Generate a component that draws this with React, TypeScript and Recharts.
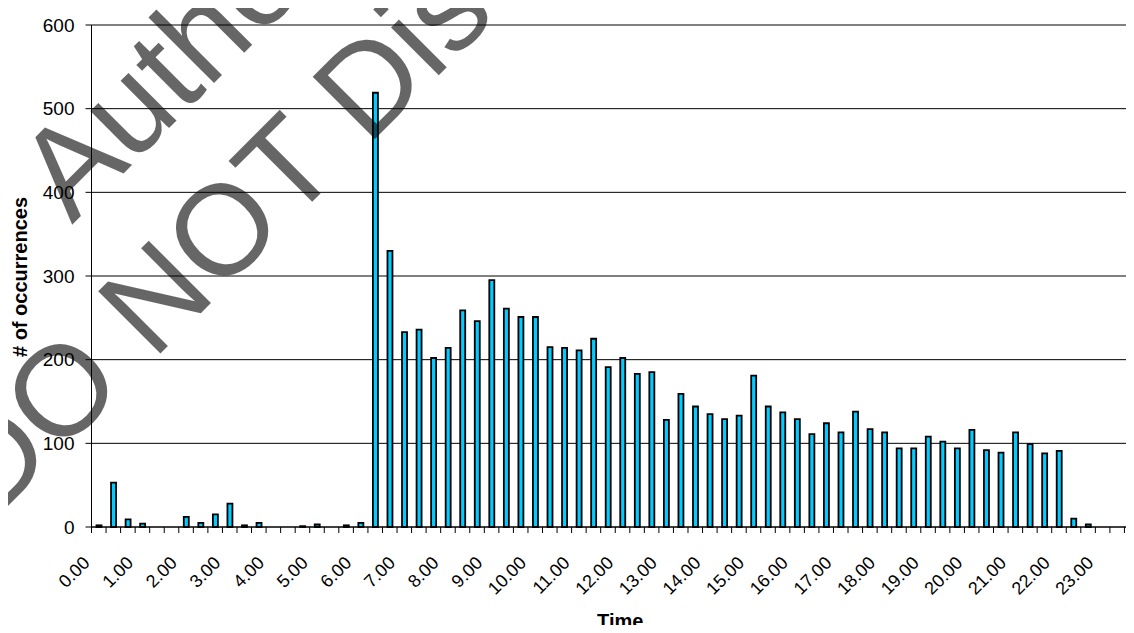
import React from 'react'
import { BarChart, Bar, XAxis, YAxis, CartesianGrid, Label, ReferenceLine } from 'recharts'

// 20-minute slots over the day, one label per hour
const hourLabels = [
  '0.00', '1.00', '2.00', '3.00', '4.00', '5.00', '6.00', '7.00', '8.00', '9.00', '10.00', '11.00',
  '12.00', '13.00', '14.00', '15.00', '16.00', '17.00', '18.00', '19.00', '20.00', '21.00', '22.00', '23.00',
]
const minuteSteps = ['00', '20', '40']

const occurrences = [
  2, 53, 9, 4, 0, 0, 12, 5, 15, 28, 2, 5,
  0, 0, 1, 3, 0, 2, 5, 519, 330, 233, 236, 202,
  214, 259, 246, 295, 261, 251, 251, 215, 214, 211, 225, 191,
  202, 183, 185, 128, 159, 144, 135, 129, 133, 181, 144, 137,
  129, 111, 124, 113, 138, 117, 113, 94, 94, 108, 102, 94,
  116, 92, 89, 113, 99, 88, 91, 10, 3, 0, 0, 2,
]

const yTicks = [0, 100, 200, 300, 400, 500, 600]

const slots = hourLabels.flatMap((h) => minuteSteps.map((m) => h.replace('.00', '.' + m)))
const rows = slots.map((slot, i) => ({ slot, count: occurrences[i] }))

const FONT = '"Liberation Sans", Arial, sans-serif'
const CHART_W = 1145
const CHART_H = 633
const MARGIN = { top: 25, right: 6, bottom: 0, left: 0 }
const Y_AXIS_W = 91.5
const PLOT_W = CHART_W - Y_AXIS_W - MARGIN.left - MARGIN.right
const BAND = PLOT_W / slots.length

function SlotTick(props: any) {
  const { x, y, index, payload } = props
  const half = payload?.offset ?? BAND / 2
  const value: string = payload?.value ?? ''
  const showLabel = value.endsWith('.00')
  const lx = x - 8
  const ly = y + 37
  return (
    <g>
      <line x1={x - half} x2={x - half} y1={y} y2={y + 6} stroke="#000" />
      {index === slots.length - 1 && <line x1={x + half} x2={x + half} y1={y} y2={y + 6} stroke="#000" />}
      {showLabel && (
        <text x={lx} y={ly} transform={`rotate(-45 ${lx} ${ly})`} textAnchor="end" fontSize={18} fontFamily={FONT} fill="#000">
          {value}
        </text>
      )}
    </g>
  )
}

export default function App() {
  return (
    <div style={{ margin: -8, width: 1134, height: 633, overflow: 'hidden', position: 'relative', background: '#fff' }}>
      <BarChart width={CHART_W} height={CHART_H} data={rows} margin={MARGIN}>
        <CartesianGrid vertical={false} stroke="#000" />
        {/* plot area frame on top */}
        <ReferenceLine y={600} stroke="#808080" strokeWidth={1.5} />
        <XAxis
          dataKey="slot"
          interval={0}
          tickLine={false}
          tickSize={0}
          tickMargin={0}
          height={106}
          axisLine={{ stroke: '#000' }}
          tick={<SlotTick />}
        >
          <Label
            content={() => (
              <text
                x={Y_AXIS_W + PLOT_W / 2 + 5}
                y={CHART_H - 5}
                textAnchor="middle"
                fontSize={20}
                fontWeight="bold"
                fontFamily={FONT}
                fill="#000"
              >
                Time
              </text>
            )}
          />
        </XAxis>
        <YAxis
          width={Y_AXIS_W}
          domain={[0, 600]}
          ticks={yTicks}
          interval={0}
          tickSize={6}
          tickMargin={11}
          axisLine={{ stroke: '#000' }}
          tickLine={{ stroke: '#000' }}
          tick={{ fill: '#000', fontSize: 19, fontFamily: FONT }}
        >
          <Label
            content={({ viewBox }: any) => {
              const cx = 27
              const cy = viewBox.y + viewBox.height / 2 + 1
              return (
                <text
                  x={cx}
                  y={cy}
                  transform={`rotate(-90 ${cx} ${cy})`}
                  textAnchor="middle"
                  fontSize={20}
                  fontWeight="bold"
                  fontFamily={FONT}
                  fill="#000"
                >
                  # of occurrences
                </text>
              )
            }}
          />
        </YAxis>
        <Bar dataKey="count" fill="#00CCFF" stroke="#000" strokeWidth={1.8} barSize={5} isAnimationActive={false} />
      </BarChart>
      <svg width={1134} height={633} style={{ position: 'absolute', left: 0, top: 0, pointerEvents: 'none' }}>
        <g fontFamily={FONT} fontSize={128} fill="#000" fillOpacity={0.6}>
          <text x={72} y={225} transform="rotate(-45 72 225)">Author's Copy</text>
          <text x={-8} y={522} transform="rotate(-45 -8 522)">DO NOT Distribute</text>
        </g>
      </svg>
    </div>
  )
}
